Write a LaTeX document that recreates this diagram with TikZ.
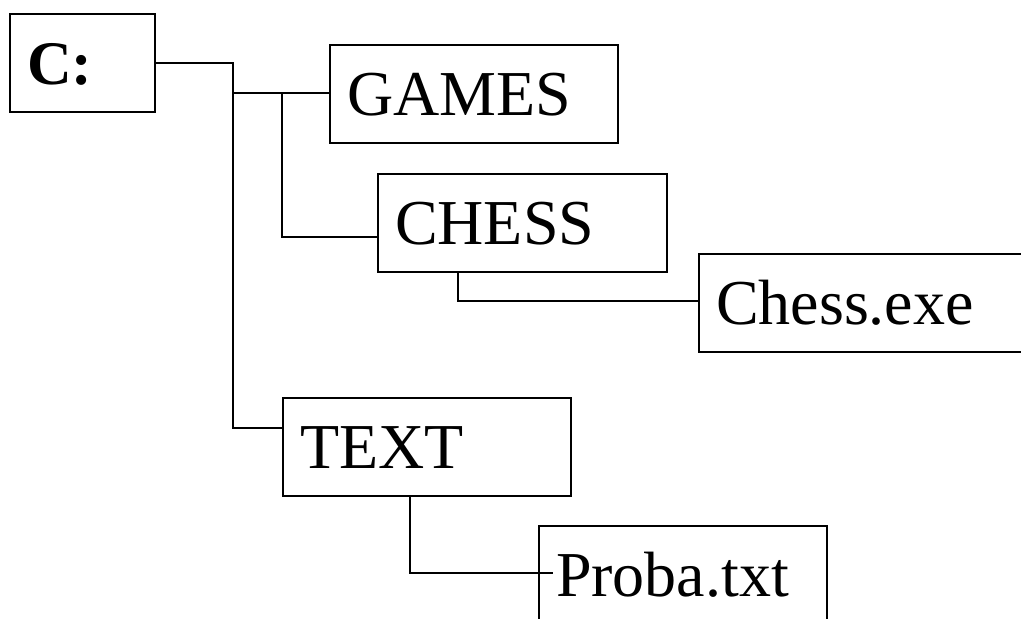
\documentclass[tikz,border=0pt]{standalone}
\usepackage{fontspec}
\setmainfont{Liberation Serif}
\usetikzlibrary{calc}
\begin{document}
\begin{tikzpicture}[x=0.5pt,y=-0.5pt,
  box/.style={draw,line width=1pt,anchor=north west,inner xsep=8.5pt,inner ysep=0pt,
    align=left,minimum height=49pt,text height=21.2pt,text depth=0pt,
    font=\fontsize{32}{36}\selectfont},
  link/.style={line width=1pt}]
\useasboundingbox (0,0) rectangle (1021,619);
\clip (0,0) rectangle (1021,619);
\node[box,minimum width=72.5pt,text width=55.5pt,font=\fontsize{31}{36}\selectfont\bfseries] (C) at (9,13) {C:};
\node[box,minimum width=144pt,text width=127pt] (GAMES) at (329,44) {GAMES};
\node[box,minimum width=144.5pt,text width=127.5pt] (CHESS) at (377,173) {CHESS};
\node[box,minimum width=170pt,text width=153pt] (exe) at (698,253) {Chess.exe};
\node[box,minimum width=144pt,text width=127pt] (TEXT) at (282,397) {TEXT};
\node[box,minimum width=144pt,text width=127pt] (proba) at (538,525) {Proba.txt};
\coordinate (trunk) at (233,428);
\coordinate (j2) at (233,93);
\coordinate (j3) at (282,93);
\coordinate (j4) at (282,237);
\coordinate (j5) at (458,301);
\coordinate (j6) at (410,573);
\draw[link] (C.east) -| (trunk) -- (TEXT.west |- trunk);
\draw[link] (j2) -- (GAMES.west |- j2);
\draw[link] (j3) -- (j4) -- (CHESS.west |- j4);
\draw[link] (CHESS.south -| j5) -- (j5) -- (exe.west |- j5);
\draw[link] (TEXT.south -| j6) -- (j6) -- ([xshift=7.5pt]proba.west |- j6);
\end{tikzpicture}
\end{document}
